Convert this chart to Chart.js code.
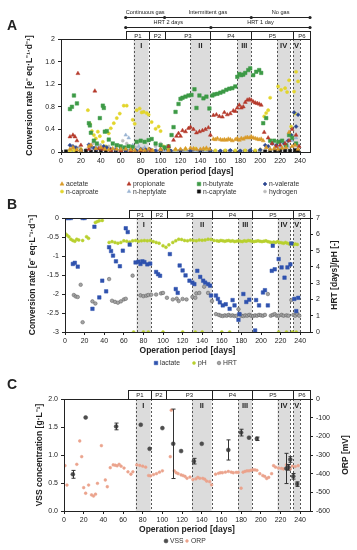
<!DOCTYPE html>
<html>
<head>
<meta charset="utf-8">
<script src="https://cdn.jsdelivr.net/npm/chart.js@4.4.1/dist/chart.umd.min.js"></script>
<style>
  html, body { margin: 0; padding: 0; background: #fff; }
  #wrap { position: relative; width: 357px; height: 550px; overflow: hidden; }
  canvas { position: absolute; left: 0; }
</style>
</head>
<body>
<div id="wrap">
  <canvas id="chartA" width="357" height="197" style="top:0"></canvas>
  <canvas id="chartB" width="357" height="173" style="top:197px"></canvas>
  <canvas id="chartC" width="357" height="180" style="top:370px"></canvas>
</div>
<script>
/* ---- Reactor operation: phases, periods, regimes ---- */
const FONT = '"Liberation Sans", Arial, sans-serif';
const INK = '#222';

const periodLabels = ['P1', 'P2', 'P3', 'P4', 'P5', 'P6'];
const periodBounds = [65, 88, 104, 150, 191, 233, 250];
const phaseLabels = ['I', 'II', 'III', 'IV', 'V'];
const phaseStart = [73, 130, 177, 217, 233];
const phaseEnd = [88, 150, 191, 230, 240];
const gasLabels = ['Continuous gas', 'Intermittent gas', 'No gas'];
const gasBounds = [65, 104, 191, 250];
const hrtLabels = ['HRT 2 days', 'HRT 1 day'];
const hrtBounds = [65, 150.5, 250];

/* ---- Panel A: conversion rates [day, e- eq/L/d] ---- */
const acetate = [[9,0.05],[12,0.08],[16,0.04],[20,0.03],[28,0.1],[30,0.12],[35,0.06],[40,0.08],[44,0.05],[48,0.04],[52,0.06],[56,0.05],[60,0.05],[65,0.05],[70,0.04],[74,0.03],[80,0.04],[84,0.03],[88,0.05],[92,0.03],[100,0.04],[108,0.03],[115,0.05],[120,0.05],[125,0.06],[130,0.07],[133,0.06],[136,0.05],[140,0.05],[143,0.06],[146,0.07],[149,0.05],[153,0.23],[155,0.22],[157,0.24],[160,0.22],[162,0.21],[164,0.22],[166,0.21],[168,0.23],[170,0.22],[172,0.2],[175,0.22],[177,0.24],[179,0.21],[181,0.24],[183,0.23],[185,0.25],[187,0.26],[189,0.25],[191,0.27],[193,0.25],[195,0.24],[197,0.23],[199,0.22],[201,0.23],[203,0.2],[206,0.08],[210,0.05],[214,0.06],[218,0.05],[222,0.07],[226,0.08],[229,0.35],[232,0.1],[235,0.12],[238,0.05]];
const propionate = [[9,0.27],[12,0.3],[14,0.27],[16,0.2],[17,1.39],[20,0.12],[28,0.05],[34,1.08],[38,0.06],[42,0.05],[50,0.03],[60,0.02],[70,0.02],[80,0.03],[90,0.03],[100,0.05],[108,0.1],[113,0.21],[116,0.28],[118,0.33],[120,0.28],[122,0.38],[125,0.36],[128,0.42],[130,0.44],[133,0.4],[136,0.34],[139,0.36],[142,0.38],[145,0.4],[148,0.43],[150,0.3],[153,0.65],[156,0.66],[159,0.63],[162,0.62],[164,0.7],[167,0.66],[170,0.68],[173,0.73],[175,0.72],[177,0.78],[179,0.83],[181,0.78],[183,0.8],[185,0.88],[187,0.92],[189,0.93],[191,0.92],[193,0.89],[195,0.87],[197,0.86],[199,0.85],[201,0.83],[204,0.35],[208,0.25],[212,0.15],[216,0.1],[220,0.12],[225,0.15],[229,0.2],[232,0.4],[236,0.3],[239,0.1]];
const nButyrate = [[9,0.76],[11,0.8],[13,1.0],[16,0.86],[28,0.51],[29,0.47],[30,0.34],[33,0.2],[36,0.15],[39,0.6],[42,0.82],[43,0.78],[44,0.36],[46,0.37],[48,0.22],[52,0.15],[56,0.12],[60,0.1],[64,0.08],[68,0.1],[72,0.09],[76,0.18],[80,0.2],[84,0.18],[88,0.21],[91,0.23],[95,0.15],[100,0.12],[104,0.08],[108,0.1],[111,0.3],[113,0.44],[115,0.71],[118,0.85],[120,0.94],[122,0.96],[125,0.98],[128,1.0],[131,1.01],[134,1.11],[136,0.78],[139,1.0],[143,0.95],[146,0.98],[149,0.77],[152,1.0],[154,1.02],[157,1.03],[160,1.05],[163,1.07],[166,1.1],[169,1.12],[172,1.13],[175,1.16],[177,1.33],[179,1.38],[181,1.36],[183,1.37],[185,1.4],[188,1.45],[190,1.48],[193,1.36],[196,1.42],[199,1.45],[201,1.4],[203,0.51],[206,0.6],[210,0.2],[214,0.2],[218,0.18],[222,0.2],[226,0.12],[229,0.3],[232,0.25],[236,0.15]];
const nValerate = [[9,0.12],[12,0.1],[15,0.08],[20,0.03],[28,0.13],[30,0.1],[33,0.07],[36,0.05],[40,0.06],[43,0.1],[46,0.08],[50,0.05],[55,0.04],[60,0.05],[65,0.03],[70,0.04],[75,0.03],[80,0.05],[85,0.04],[90,0.03],[95,0.02],[100,0.03],[110,0.02],[120,0.03],[130,0.02],[140,0.03],[150,0.02],[160,0.02],[170,0.03],[180,0.02],[190,0.03],[200,0.04],[205,0.12],[208,0.1],[212,0.15],[216,0.12],[220,0.18],[224,0.15],[228,0.2],[231,0.3],[234,0.7],[236,0.45],[238,0.66]];
const nCaproate = [[9,0.02],[13,0.03],[20,0.05],[27,0.74],[29,0.5],[31,0.37],[33,0.3],[35,0.24],[37,0.36],[39,0.28],[42,0.18],[45,0.1],[48,0.33],[50,0.42],[53,0.51],[56,0.6],[59,0.68],[63,0.82],[66,0.82],[72,0.57],[74,0.5],[76,0.74],[79,0.77],[81,0.7],[83,0.71],[86,0.69],[88,0.66],[91,0.53],[95,0.41],[98,0.45],[100,0.37],[103,0.1],[108,0.05],[115,0.04],[125,0.05],[135,0.06],[145,0.05],[155,0.03],[165,0.03],[175,0.03],[185,0.03],[195,0.03],[200,0.04],[204,0.63],[206,0.69],[208,0.74],[210,0.96],[218,1.16],[221,1.1],[225,1.13],[227,1.06],[229,1.27],[231,0.45],[234,1.07],[235,0.68],[236,1.42],[238,1.25]];
const nHeptylate = [[10,0.02],[20,0.05],[30,0.06],[35,0.1],[40,0.12],[45,0.08],[50,0.05],[55,0.08],[60,0.06],[65,0.3],[68,0.25],[72,0.12],[78,0.1],[84,0.08],[90,0.05],[96,0.03],[105,0.02],[115,0.02],[125,0.02],[135,0.02],[145,0.02],[155,0.01],[170,0.01],[185,0.01],[200,0.02],[210,0.05],[220,0.08],[228,0.1],[232,0.2],[236,0.25],[239,0.1]];
const nCaprylate = [[0,0],[5,0.01],[10,0],[15,0.01],[20,0.01],[25,0.02],[30,0.01],[35,0.02],[40,0.02],[45,0.01],[50,0.01],[55,0.02],[60,0.01],[65,0.02],[70,0.02],[75,0.01],[80,0.01],[85,0.02],[90,0.02],[95,0.01],[100,0.01],[105,0.02],[110,0.01],[115,0.01],[120,0.02],[125,0.01],[130,0.01],[135,0.02],[140,0.01],[145,0.01],[150,0.01],[155,0],[160,0],[165,0.01],[170,0.01],[175,0],[180,0],[185,0.01],[190,0.01],[195,0],[200,0.01],[205,0.01],[210,0.02],[215,0.02],[220,0.03],[225,0.02],[230,0.02],[235,0.03],[238,0.02]];
const hydrogen = [[12,0.05],[18,0.08],[25,0.04],[32,0.15],[38,0.12],[44,0.08],[48,0.1],[58,0.12],[62,0.2],[66,0.15],[75,0.08],[82,0.06],[95,0.1],[100,0.15],[105,0.05],[115,0.03],[125,0.04],[140,0.03],[160,0.02],[180,0.02],[200,0.03],[215,0.05],[225,0.08],[233,0.3],[237,0.12]];

/* ---- Panel B: lactate [e- eq/L/d], pH [-], HRT [days] ---- */
const lactate = [[0,0],[2,0],[4,0],[6,0],[8,-1.21],[10,-1.18],[13,-1.28],[18,0],[20,0],[28,-2.39],[30,-0.23],[35,-2.09],[38,-1.65],[42,-1.93],[45,-0.77],[47,-0.87],[49,-0.99],[52,-1.14],[56,-1.27],[59,-0.86],[62,-0.27],[64,-0.37],[66,-0.7],[72,-1.17],[75,-1.15],[77,-1.21],[79,-1.14],[81,-1.16],[84,-1.22],[87,-1.2],[93,-1.42],[95,-1.48],[97,-1.52],[107,-0.95],[113,-1.87],[115,-1.97],[117,-1.25],[120,-1.38],[123,-1.51],[127,-1.65],[130,-1.7],[132,-1.74],[135,-1.39],[138,-1.55],[141,-1.65],[143,-1.7],[146,-1.74],[148,-1.78],[149,-2.04],[154,-2.04],[156,-2.13],[158,-2.22],[161,-2.3],[164,-2.27],[168,-2.39],[171,-2.16],[173,-2.3],[177,-2.68],[178,-2.53],[182,-2.0],[185,-2.21],[188,-2.15],[194,-2.96],[195,-2.16],[198,-2.3],[202,-1.96],[204,-1.9],[207,-2.3],[211,-1.39],[212,-0.73],[214,-1.35],[218,-1.08],[221,-1.3],[224,-1.57],[227,-1.3],[230,-1.22],[231,-0.67],[234,-2.13],[236,-2.45],[238,-2.1]];
const pH = [[0,6.05],[2,5.95],[4,5.85],[6,5.7],[8,5.62],[10,5.57],[12,5.7],[14,5.65],[18,5.62],[22,5.85],[24,5.75],[31,6.73],[33,6.78],[35,6.83],[38,6.85],[45,5.5],[48,5.55],[51,5.5],[54,5.45],[57,5.5],[60,5.6],[63,5.58],[66,5.52],[69,5.6],[72,5.62],[75,5.58],[78,5.6],[81,5.62],[84,5.6],[87,5.62],[90,5.55],[93,5.5],[96,5.45],[100,5.3],[103,5.2],[106,5.35],[110,5.5],[113,5.6],[116,5.7],[119,5.68],[122,5.62],[125,5.6],[128,5.65],[131,5.62],[134,5.6],[137,5.65],[140,5.63],[143,5.65],[146,5.7],[149,5.68],[152,5.62],[155,5.6],[157,5.58],[159,5.62],[161,5.6],[163,5.57],[165,5.6],[167,5.62],[169,5.58],[171,5.6],[173,5.55],[175,5.58],[177,5.6],[179,5.57],[181,5.55],[183,5.6],[185,5.58],[187,5.62],[189,5.6],[191,5.57],[193,5.55],[195,5.58],[197,5.6],[199,5.57],[201,5.55],[203,5.58],[205,5.6],[207,5.55],[209,5.52],[211,5.5],[213,5.52],[215,5.5],[217,5.55],[219,5.5],[221,5.48],[223,5.45],[225,5.5],[227,5.45],[229,5.4],[231,5.45],[233,5.35],[235,5.4],[237,5.38],[70,0],[80,0],[85,0],[100,0],[120,0],[133,0],[140,0],[160,0],[168,0],[218,0],[226,0],[232,0],[236,0]];
const hrt = [[9,2.27],[11,2.18],[13,2.15],[16,2.9],[18,0.6],[28,1.88],[31,1.75],[45,3.25],[48,1.92],[51,1.85],[54,1.8],[57,1.88],[60,2.0],[62,2.04],[69,3.46],[77,2.25],[80,2.2],[83,2.23],[85,2.27],[88,2.29],[93,2.3],[98,2.37],[100,2.4],[104,2.1],[110,2.0],[114,2.05],[116,1.9],[120,2.03],[124,2.0],[130,2.15],[133,2.1],[134,2.37],[137,2.4],[142,2.78],[146,2.4],[150,1.9],[154,1.1],[157,1.05],[159,1.0],[161,0.98],[163,1.02],[165,1.0],[167,1.05],[169,1.0],[171,1.02],[173,0.98],[175,1.0],[177,1.4],[178,1.1],[180,1.0],[182,0.98],[184,1.02],[186,1.0],[188,1.05],[190,1.0],[192,0.98],[194,1.02],[196,1.0],[198,1.05],[200,1.02],[202,1.0],[204,1.05],[207,2.33],[210,1.0],[212,1.05],[214,1.1],[216,1.0],[218,1.0],[221,1.05],[223,1.0],[226,1.02],[228,1.0],[231,1.96],[233,1.05],[235,1.0],[237,1.1],[239,1.0]];

/* ---- Panel C: VSS [g/L] with std. dev., ORP [mV] ---- */
const vss = [[9,0.655],[22,1.67],[53,1.51],[78,1.54],[87,1.11],[100,1.48],[111,1.2],[119,1.07],[132,0.89],[140,1.2],[167,1.09],[180,1.4],[188,1.31],[196,1.29],[226,0.76],[228,0.78],[230,0.92],[233,0.62],[237,0.48]];
const vssErr = [0.07, 0, 0.06, 0, 0, 0, 0.62, 0, 0.05, 0, 0.18, 0.06, 0, 0.03, 0.27, 0.05, 0.05, 0.05, 0.04];
const orp = [[1,-357],[3,-461],[13,-350],[16,-225],[18,-309],[20,-475],[22,-505],[25,-461],[28,-514],[30,-520],[32,-510],[34,-452],[38,-250],[42,-434],[44,-470],[47,-368],[50,-353],[52,-355],[54,-358],[56,-350],[58,-360],[61,-370],[65,-390],[68,-403],[70,-390],[74,-353],[77,-356],[80,-360],[83,-365],[86,-410],[88,-412],[91,-405],[94,-400],[97,-392],[100,-385],[108,-309],[109,-60],[112,-385],[114,-395],[116,-400],[119,-407],[121,-410],[123,-415],[125,-425],[128,-418],[131,-432],[134,-428],[136,-420],[138,-425],[141,-425],[143,-430],[145,-440],[148,-443],[150,-460],[154,-403],[157,-398],[159,-395],[161,-395],[164,-392],[167,-388],[170,-392],[172,-395],[175,-393],[177,-393],[180,-478],[182,-392],[184,-388],[186,-385],[188,-385],[190,-382],[192,-380],[194,-380],[196,-382],[199,-400],[202,-410],[204,-415],[206,-426],[208,-420],[211,-400],[213,-357],[215,-365],[218,-370],[221,-372],[223,-375],[226,-353],[228,-365],[230,-375],[232,-360],[235,-362],[238,-357]];

const pts = arr => arr.map(([x, y]) => ({ x, y }));

// ---- marker shapes (legend) ----
function mark(ctx, ds, x, y) {
  const r = ds.pointRadius, s = ds.pointStyle;
  ctx.beginPath();
  if (s === 'rect') { const h = r * Math.SQRT1_2; ctx.rect(x - h, y - h, 2 * h, 2 * h); }
  else if (s === 'rectRot') { ctx.moveTo(x, y - r); ctx.lineTo(x + r, y); ctx.lineTo(x, y + r); ctx.lineTo(x - r, y); ctx.closePath(); }
  else if (s === 'triangle') { ctx.moveTo(x, y - r); ctx.lineTo(x + r * 0.87, y + r * 0.5); ctx.lineTo(x - r * 0.87, y + r * 0.5); ctx.closePath(); }
  else ctx.arc(x, y, r, 0, Math.PI * 2);
  ctx.fillStyle = ds.backgroundColor; ctx.fill();
  ctx.strokeStyle = ds.borderColor; ctx.lineWidth = ds.borderWidth || 0.5; ctx.stroke();
}

// ---- periods, shaded phases, labels, legend ----
const decor = {
  id: 'decor',
  beforeDatasetsDraw(chart) {
    const { ctx, chartArea: a, scales: { x } } = chart;
    ctx.save();
    ctx.fillStyle = '#dcdcdc';
    phaseStart.forEach((s, i) => {
      const x0 = x.getPixelForValue(s), x1 = x.getPixelForValue(phaseEnd[i]);
      ctx.fillRect(x0, a.top, x1 - x0, a.bottom - a.top);
    });
    ctx.strokeStyle = '#555'; ctx.lineWidth = 1; ctx.setLineDash([2, 2]);
    phaseStart.forEach((s, i) => {
      [s, phaseEnd[i]].forEach(v => {
        const px = Math.round(x.getPixelForValue(v)) + 0.5;
        ctx.beginPath(); ctx.moveTo(px, a.top); ctx.lineTo(px, a.bottom); ctx.stroke();
      });
    });
    ctx.restore();
  },
  afterDraw(chart, args, o) {
    const { ctx, chartArea: a, scales: { x } } = chart;
    ctx.save();
    ctx.strokeStyle = INK; ctx.fillStyle = INK; ctx.lineWidth = 1;
    const top = Math.round(a.top) + 0.5;
    ctx.strokeRect(Math.round(a.left) + 0.5, top, Math.round(a.right - a.left), Math.round(a.bottom - a.top));

    // period boxes
    ctx.textAlign = 'center'; ctx.textBaseline = 'middle';
    ctx.font = `6px ${FONT}`;
    periodLabels.forEach((p, i) => {
      const x0 = Math.round(x.getPixelForValue(periodBounds[i])) + 0.5;
      const x1 = Math.round(x.getPixelForValue(periodBounds[i + 1])) + 0.5;
      ctx.strokeRect(x0, top - o.boxH, x1 - x0, o.boxH);
      ctx.fillText(p, (x0 + x1) / 2, top - o.boxH / 2 + 0.5);
    });

    // phase numerals
    ctx.font = `bold 7.5px ${FONT}`;
    phaseLabels.forEach((p, i) => {
      const cx = (x.getPixelForValue(phaseStart[i]) + x.getPixelForValue(phaseEnd[i])) / 2;
      ctx.fillText(p, cx, a.top + 7);
    });

    // gas / HRT regime arrows (panel A only)
    if (o.arrows) {
      ctx.font = `5.6px ${FONT}`;
      [[gasBounds, gasLabels, 17], [hrtBounds, hrtLabels, 27]].forEach(([b, labels, y]) => {
        const px = b.map(v => x.getPixelForValue(v));
        ctx.beginPath(); ctx.moveTo(px[0], y + 0.5); ctx.lineTo(px[px.length - 1], y + 0.5); ctx.stroke();
        px.forEach(p => { ctx.beginPath(); ctx.arc(p, y + 0.5, 1.6, 0, Math.PI * 2); ctx.fill(); });
        labels.forEach((t, i) => ctx.fillText(t, (px[i] + px[i + 1]) / 2, y - 5));
      });
    }

    // panel letter
    ctx.textAlign = 'left';
    ctx.font = `bold 14px ${FONT}`;
    ctx.fillText(o.letter, 7, o.letterY);

    // right axis title, read bottom to top
    if (o.rightTitle) {
      ctx.save();
      ctx.translate(o.rightTitleX, (a.top + a.bottom) / 2);
      ctx.rotate(-Math.PI / 2);
      ctx.textAlign = 'center';
      ctx.font = `bold 8.5px ${FONT}`;
      ctx.fillText(o.rightTitle, 0, 0);
      ctx.restore();
    }

    // legend
    ctx.font = `6.8px ${FONT}`;
    ctx.textAlign = 'left';
    o.legend.forEach(([i, lx, ly]) => {
      const ds = chart.data.datasets[i];
      mark(ctx, ds, lx, ly);
      ctx.fillStyle = '#333';
      ctx.fillText(ds.label, lx + 4, ly + 0.5);
    });
    ctx.restore();
  }
};

// ---- VSS standard deviation bars ----
const errorBars = {
  id: 'errorBars',
  afterDatasetsDraw(chart) {
    const { ctx, scales: { x, y } } = chart;
    ctx.save();
    ctx.strokeStyle = '#333'; ctx.lineWidth = 1;
    vss.forEach(([d, v], i) => {
      const e = vssErr[i];
      if (!e) return;
      const px = Math.round(x.getPixelForValue(d)) + 0.5;
      const y0 = y.getPixelForValue(v - e), y1 = y.getPixelForValue(v + e);
      ctx.beginPath();
      ctx.moveTo(px, y0); ctx.lineTo(px, y1);
      ctx.moveTo(px - 2, y0); ctx.lineTo(px + 2, y0);
      ctx.moveTo(px - 2, y1); ctx.lineTo(px + 2, y1);
      ctx.stroke();
    });
    ctx.restore();
  }
};

// ---- shared axis builders ----
const tickFont = { family: FONT, size: 7 };
const titleFont = { family: FONT, size: 8.5, weight: 'bold' };
const trim = v => String(Math.round(v * 10) / 10);

function xAxis(h) {
  return {
    type: 'linear', min: 0, max: 250,
    ticks: { stepSize: 20, includeBounds: false, color: INK, font: tickFont, padding: 2, maxRotation: 0 },
    grid: { drawOnChartArea: false, tickLength: 3, color: INK },
    border: { color: INK },
    title: { display: true, text: 'Operation period [days]', color: INK, font: titleFont, padding: { top: 0, bottom: 1 } },
    afterFit: s => { s.height = h; }
  };
}
function yAxis(opts) {
  return {
    type: 'linear', position: opts.position || 'left', min: opts.min, max: opts.max,
    ticks: { stepSize: opts.step, color: INK, font: tickFont, padding: 3, callback: opts.fmt },
    grid: { drawOnChartArea: false, tickLength: 3, color: INK },
    border: { color: INK },
    title: { display: !!opts.title, text: opts.title || '', color: INK, font: titleFont, padding: { top: 0, bottom: 0 } },
    afterFit: s => { s.width = opts.width; }
  };
}
function scatterSet(label, data, style, r, color, border, axis) {
  return {
    label, data: pts(data), pointStyle: style, pointRadius: r, pointHoverRadius: r,
    backgroundColor: color, borderColor: border || color, borderWidth: 0.5,
    showLine: false, yAxisID: axis || 'y'
  };
}
const common = { responsive: false, animation: false, events: [] };

// ---- A: conversion rates ----
new Chart(document.getElementById('chartA'), {
  type: 'scatter',
  data: {
    datasets: [
      scatterSet('acetate', acetate, 'triangle', 2.3, '#d99a28'),
      scatterSet('propionate', propionate, 'triangle', 2.3, '#b5392a'),
      scatterSet('n-butyrate', nButyrate, 'rect', 2.5, '#3d9a46'),
      scatterSet('n-valerate', nValerate, 'rectRot', 2, '#2c4790'),
      scatterSet('n-caproate', nCaproate, 'circle', 1.6, '#e2d52c'),
      scatterSet('n-heptylate', nHeptylate, 'triangle', 2.1, '#9ab4d2'),
      scatterSet('n-caprylate', nCaprylate, 'rect', 2.3, '#111111'),
      scatterSet('hydrogen', hydrogen, 'circle', 1.5, '#bdbdbd')
    ]
  },
  options: {
    ...common,
    layout: { padding: { left: 25, right: 47, top: 39, bottom: 19 } },
    plugins: {
      legend: { display: false }, tooltip: { enabled: false },
      decor: {
        letter: 'A', letterY: 26, boxH: 8, arrows: true,
        legend: [[0, 62, 184], [1, 129, 184], [2, 199, 184], [3, 265, 184],
                 [4, 62, 191.5], [5, 129, 191.5], [6, 199, 191.5], [7, 265, 191.5]]
      }
    },
    scales: {
      x: xAxis(26),
      y: yAxis({ min: 0, max: 2, step: 0.2, fmt: trim, width: 36, title: 'Conversion rate [e⁻ eq·L⁻¹·d⁻¹]' })
    }
  },
  plugins: [decor]
});

// ---- B: lactate, pH, HRT ----
new Chart(document.getElementById('chartB'), {
  type: 'scatter',
  data: {
    datasets: [
      scatterSet('lactate', lactate, 'rect', 2.5, '#2f52ae'),
      scatterSet('pH', pH, 'circle', 1.5, '#b8d02e', '#b8d02e', 'y1'),
      scatterSet('HRT', hrt, 'circle', 1.8, '#a3a3a3', '#5a5a5a', 'y1')
    ]
  },
  options: {
    ...common,
    layout: { padding: { left: 28, right: 0, top: 21, bottom: 13 } },
    plugins: {
      legend: { display: false }, tooltip: { enabled: false },
      decor: {
        letter: 'B', letterY: 8, boxH: 8,
        rightTitle: 'HRT [days]/pH [-]', rightTitleX: 335,
        legend: [[0, 156, 166], [1, 194, 166], [2, 219, 166]]
      }
    },
    scales: {
      x: xAxis(25),
      y: yAxis({ min: -3, max: 0, step: 0.5, fmt: trim, width: 37, title: 'Conversion rate [e⁻ eq·L⁻¹·d⁻¹]' }),
      y1: yAxis({ position: 'right', min: 0, max: 7, step: 1, fmt: trim, width: 47 })
    }
  },
  plugins: [decor]
});

// ---- C: VSS and ORP ----
new Chart(document.getElementById('chartC'), {
  type: 'scatter',
  data: {
    datasets: [
      scatterSet('VSS', vss, 'circle', 2, '#4d4d4d'),
      scatterSet('ORP', orp, 'circle', 1.4, '#eba38c', '#eba38c', 'y1')
    ]
  },
  options: {
    ...common,
    layout: { padding: { left: 35, right: 0, top: 29, bottom: 14 } },
    plugins: {
      legend: { display: false }, tooltip: { enabled: false },
      decor: {
        letter: 'C', letterY: 15, boxH: 9,
        rightTitle: 'ORP [mV]', rightTitleX: 346,
        legend: [[0, 166, 171], [1, 187, 171]]
      }
    },
    scales: {
      x: xAxis(25),
      y: yAxis({ min: 0, max: 2, step: 0.5, fmt: v => v.toFixed(1), width: 29, title: 'VSS concentration [g·L⁻¹]' }),
      y1: yAxis({ position: 'right', min: -600, max: 0, step: 100, fmt: v => String(v), width: 47 })
    }
  },
  plugins: [decor, errorBars]
});
</script>
</body>
</html>
